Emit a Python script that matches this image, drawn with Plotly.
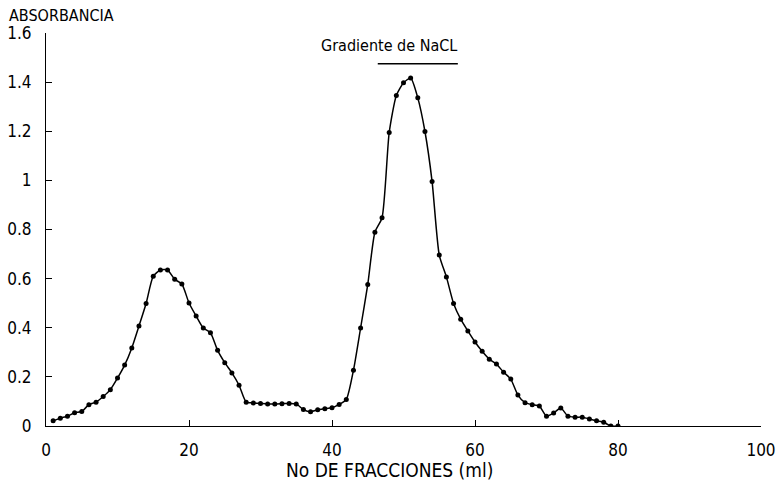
import plotly.graph_objects as go

fracciones = [1, 2, 3, 4, 5, 6, 7, 8, 9, 10, 11, 12, 13, 14, 15, 16, 17, 18, 19, 20,
              21, 22, 23, 24, 25, 26, 27, 28, 29, 30, 31, 32, 33, 34, 35, 36, 37, 38, 39, 40,
              41, 42, 43, 44, 45, 46, 47, 48, 49, 50, 51, 52, 53, 54, 55, 56, 57, 58, 59, 60,
              61, 62, 63, 64, 65, 66, 67, 68, 69, 70, 71, 72, 73, 74, 75, 76, 77, 78, 79, 80]
absorbancia = [0.021, 0.032, 0.040, 0.054, 0.059, 0.087, 0.097, 0.120, 0.148, 0.195,
               0.248, 0.318, 0.407, 0.499, 0.610, 0.635, 0.635, 0.597, 0.578, 0.501,
               0.448, 0.399, 0.380, 0.308, 0.258, 0.216, 0.166, 0.097, 0.094, 0.092,
               0.090, 0.090, 0.091, 0.092, 0.090, 0.067, 0.058, 0.066, 0.070, 0.074,
               0.088, 0.108, 0.227, 0.399, 0.576, 0.789, 0.848, 1.195, 1.346, 1.397,
               1.417, 1.336, 1.199, 0.995, 0.696, 0.607, 0.499, 0.435, 0.387, 0.342,
               0.304, 0.272, 0.252, 0.219, 0.191, 0.126, 0.095, 0.087, 0.081, 0.040,
               0.053, 0.073, 0.040, 0.036, 0.036, 0.029, 0.021, 0.015, 0.0, 0.0]

x_ticks = [0, 20, 40, 60, 80, 100]
y_ticks = [0, 0.2, 0.4, 0.6, 0.8, 1.0, 1.2, 1.4, 1.6]
y_tick_labels = ["0", "0.2", "0.4", "0.6", "0.8", "1", "1.2", "1.4", "1.6"]

gradiente_inicio = 46.4
gradiente_fin = 57.6
gradiente_nivel = 1.475

FONT = "DejaVu Sans Condensed, Liberation Sans Narrow, Roboto, sans-serif"
FS = 16

fig = go.Figure()
fig.add_trace(go.Scatter(
    x=fracciones, y=absorbancia, mode="lines+markers",
    line=dict(color="black", width=1.5, shape="spline", smoothing=0.6),
    marker=dict(color="black", size=5),
    showlegend=False,
))

fig.update_layout(
    width=779, height=484,
    margin=dict(l=46, r=18, t=33, b=58),
    paper_bgcolor="white", plot_bgcolor="white",
    font=dict(family=FONT, size=FS, color="black"),
    xaxis=dict(range=[0, 100], tickvals=x_ticks, ticks="inside", ticklen=6,
               tickcolor="black", showline=True, linecolor="black", linewidth=1.2,
               showgrid=False, zeroline=False, ticklabelstandoff=8, automargin=False,
               tickfont=dict(family=FONT, size=FS + 1)),
    yaxis=dict(range=[0, 1.6], tickvals=y_ticks, ticktext=y_tick_labels,
               ticks="inside", ticklen=6, tickcolor="black", showline=True,
               linecolor="black", linewidth=1.2, showgrid=False, zeroline=False,
               ticklabelstandoff=10, automargin=False, tickfont=dict(family=FONT, size=FS + 1)),
)

fig.add_annotation(text="ABSORBANCIA", xref="paper", yref="paper", x=0, y=1,
                   xanchor="left", yanchor="middle", xshift=-39, yshift=18,
                   showarrow=False, font=dict(family=FONT, size=FS))
fig.add_annotation(text="No DE FRACCIONES (ml)", xref="x", yref="paper", x=48.0, y=0,
                   xanchor="center", yanchor="middle", yshift=-44,
                   showarrow=False, font=dict(family=FONT, size=FS + 3))
fig.add_annotation(text="Gradiente de NaCL", xref="x", yref="y",
                   x=48.0, y=1.549,
                   xanchor="center", yanchor="middle",
                   showarrow=False, font=dict(family=FONT, size=FS))
fig.add_shape(type="line", xref="x", yref="y",
              x0=gradiente_inicio, x1=gradiente_fin, y0=gradiente_nivel, y1=gradiente_nivel,
              line=dict(color="black", width=1.5))

fig.write_html("out.html", config={"displayModeBar": False},
               post_script="document.body.style.margin='0';document.body.style.overflow='hidden';")
